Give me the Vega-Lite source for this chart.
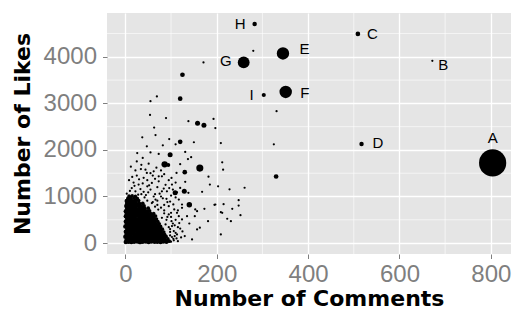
{
"$schema":"https://vega.github.io/schema/vega-lite/v6.json",
"width":404,"height":241,
"autosize":{"type":"none"},
"padding":{"left":107,"top":13,"right":9,"bottom":57},
"background":"white",
"config":{
"view":{"fill":"#E5E5E5","stroke":null},
"axis":{"grid":true,"gridColor":"white","gridWidth":1.3,"domain":false,"tickColor":"#7F7F7F","tickSize":4.5,"tickWidth":1,"labelFont":"Liberation Sans","labelFontSize":24,"labelColor":"#7F7F7F","labelFlush":false,"labelOverlap":false,"format":"d","titleFont":"DejaVu Sans","titleFontSize":22,"titleFontWeight":"bold","titleColor":"black"},
"axisX":{"labelPadding":4,"titlePadding":2},
"axisY":{"labelPadding":6,"titlePadding":9}
},
"datasets":{"pts":[
{"c":1,"l":25,"s":20},{"c":7,"l":30,"s":20},{"c":13,"l":22,"s":20},{"c":19,"l":28,"s":20},{"c":26,"l":35,"s":20},{"c":32,"l":20,"s":20},{"c":38,"l":27,"s":20},{"c":45,"l":31,"s":20},{"c":51,"l":24,"s":20},{"c":57,"l":33,"s":20},{"c":64,"l":26,"s":20},{"c":70,"l":30,"s":20},{"c":77,"l":22,"s":20},{"c":83,"l":35,"s":20},{"c":90,"l":28,"s":20},{"c":96,"l":40,"s":14},
{"c":3,"l":78,"s":20},{"c":9,"l":85,"s":20},{"c":16,"l":72,"s":20},{"c":22,"l":88,"s":20},{"c":28,"l":80,"s":20},{"c":35,"l":75,"s":20},{"c":41,"l":90,"s":20},{"c":48,"l":82,"s":20},{"c":54,"l":77,"s":20},{"c":60,"l":86,"s":20},{"c":67,"l":79,"s":20},{"c":73,"l":92,"s":20},{"c":80,"l":83,"s":20},{"c":86,"l":75,"s":20},{"c":93,"l":88,"s":14},
{"c":0,"l":135,"s":20},{"c":6,"l":128,"s":20},{"c":12,"l":140,"s":20},{"c":19,"l":132,"s":20},{"c":25,"l":145,"s":20},{"c":31,"l":130,"s":20},{"c":38,"l":138,"s":20},{"c":44,"l":127,"s":20},{"c":51,"l":142,"s":20},{"c":57,"l":135,"s":20},{"c":63,"l":131,"s":20},{"c":70,"l":146,"s":20},{"c":76,"l":137,"s":20},{"c":83,"l":129,"s":20},{"c":89,"l":141,"s":14},
{"c":3,"l":190,"s":20},{"c":9,"l":185,"s":20},{"c":15,"l":198,"s":20},{"c":22,"l":182,"s":20},{"c":28,"l":193,"s":20},{"c":34,"l":188,"s":20},{"c":41,"l":196,"s":20},{"c":47,"l":184,"s":20},{"c":54,"l":191,"s":20},{"c":60,"l":199,"s":20},{"c":66,"l":186,"s":20},{"c":73,"l":194,"s":20},{"c":79,"l":187,"s":20},{"c":86,"l":180,"s":14},
{"c":1,"l":245,"s":20},{"c":7,"l":252,"s":20},{"c":13,"l":240,"s":20},{"c":19,"l":248,"s":20},{"c":26,"l":255,"s":20},{"c":32,"l":243,"s":20},{"c":38,"l":250,"s":20},{"c":45,"l":238,"s":20},{"c":51,"l":246,"s":20},{"c":57,"l":253,"s":20},{"c":64,"l":241,"s":20},{"c":70,"l":249,"s":20},{"c":77,"l":244,"s":20},{"c":84,"l":236,"s":14},
{"c":4,"l":300,"s":20},{"c":10,"l":295,"s":20},{"c":16,"l":306,"s":20},{"c":23,"l":298,"s":20},{"c":29,"l":292,"s":20},{"c":35,"l":304,"s":20},{"c":42,"l":299,"s":20},{"c":48,"l":308,"s":20},{"c":55,"l":296,"s":20},{"c":61,"l":302,"s":20},{"c":67,"l":293,"s":20},{"c":74,"l":305,"s":20},{"c":81,"l":297,"s":14},
{"c":0,"l":355,"s":20},{"c":6,"l":360,"s":20},{"c":13,"l":350,"s":20},{"c":19,"l":358,"s":20},{"c":25,"l":363,"s":20},{"c":32,"l":352,"s":20},{"c":38,"l":356,"s":20},{"c":44,"l":349,"s":20},{"c":51,"l":361,"s":20},{"c":57,"l":354,"s":20},{"c":64,"l":359,"s":20},{"c":70,"l":348,"s":20},{"c":77,"l":357,"s":14},
{"c":3,"l":410,"s":20},{"c":9,"l":405,"s":20},{"c":16,"l":415,"s":20},{"c":22,"l":408,"s":20},{"c":28,"l":402,"s":20},{"c":35,"l":413,"s":20},{"c":41,"l":407,"s":20},{"c":48,"l":418,"s":20},{"c":54,"l":404,"s":20},{"c":60,"l":411,"s":20},{"c":67,"l":406,"s":20},{"c":74,"l":414,"s":14},
{"c":1,"l":465,"s":20},{"c":7,"l":470,"s":20},{"c":13,"l":460,"s":20},{"c":19,"l":468,"s":20},{"c":26,"l":474,"s":20},{"c":32,"l":462,"s":20},{"c":38,"l":467,"s":20},{"c":45,"l":459,"s":20},{"c":51,"l":471,"s":20},{"c":58,"l":464,"s":20},{"c":64,"l":469,"s":20},{"c":71,"l":461,"s":14},
{"c":4,"l":520,"s":20},{"c":10,"l":515,"s":20},{"c":16,"l":526,"s":20},{"c":22,"l":518,"s":20},{"c":29,"l":512,"s":20},{"c":35,"l":523,"s":20},{"c":42,"l":517,"s":20},{"c":48,"l":528,"s":20},{"c":55,"l":514,"s":20},{"c":61,"l":521,"s":20},{"c":68,"l":516,"s":14},
{"c":1,"l":575,"s":20},{"c":7,"l":580,"s":20},{"c":13,"l":570,"s":20},{"c":20,"l":578,"s":20},{"c":26,"l":584,"s":20},{"c":32,"l":572,"s":20},{"c":39,"l":577,"s":20},{"c":45,"l":569,"s":20},{"c":52,"l":581,"s":20},{"c":59,"l":574,"s":20},{"c":66,"l":579,"s":14},
{"c":3,"l":630,"s":20},{"c":9,"l":625,"s":20},{"c":16,"l":636,"s":20},{"c":22,"l":628,"s":20},{"c":28,"l":622,"s":20},{"c":35,"l":633,"s":20},{"c":41,"l":627,"s":20},{"c":48,"l":638,"s":20},{"c":55,"l":624,"s":20},{"c":62,"l":631,"s":14},
{"c":1,"l":685,"s":20},{"c":7,"l":690,"s":20},{"c":13,"l":680,"s":20},{"c":19,"l":688,"s":20},{"c":26,"l":694,"s":20},{"c":32,"l":682,"s":20},{"c":39,"l":687,"s":20},{"c":46,"l":679,"s":20},{"c":53,"l":691,"s":14},
{"c":4,"l":740,"s":20},{"c":10,"l":735,"s":20},{"c":16,"l":746,"s":20},{"c":22,"l":738,"s":20},{"c":29,"l":732,"s":20},{"c":35,"l":743,"s":20},{"c":42,"l":737,"s":20},{"c":50,"l":748,"s":14},
{"c":2,"l":795,"s":20},{"c":8,"l":800,"s":20},{"c":14,"l":790,"s":20},{"c":20,"l":798,"s":20},{"c":27,"l":804,"s":20},{"c":34,"l":792,"s":20},{"c":41,"l":797,"s":14},
{"c":4,"l":850,"s":20},{"c":10,"l":845,"s":20},{"c":16,"l":856,"s":20},{"c":23,"l":848,"s":20},{"c":30,"l":842,"s":20},{"c":38,"l":853,"s":14},
{"c":3,"l":905,"s":20},{"c":9,"l":910,"s":20},{"c":15,"l":900,"s":20},{"c":22,"l":908,"s":20},{"c":29,"l":914,"s":14},
{"c":6,"l":960,"s":16},{"c":12,"l":955,"s":16},{"c":19,"l":966,"s":16},{"c":26,"l":958,"s":14},
{"c":8,"l":1010,"s":12},{"c":15,"l":1018,"s":12},{"c":22,"l":1004,"s":12},
{"c":280,"l":4128,"s":5},{"c":171,"l":3880,"s":5},{"c":125,"l":3615,"s":22},{"c":120,"l":3102,"s":22},{"c":55,"l":3046,"s":5},{"c":69,"l":3150,"s":5},{"c":331,"l":2832,"s":5},{"c":325,"l":2120,"s":5},{"c":330,"l":1430,"s":22},
{"c":158,"l":2575,"s":25},{"c":172,"l":2532,"s":25},{"c":193,"l":2665,"s":5},{"c":197,"l":2470,"s":5},{"c":54,"l":2753,"s":5},{"c":89,"l":2685,"s":5},{"c":63,"l":2480,"s":5},{"c":66,"l":2320,"s":5},{"c":138,"l":2618,"s":5},{"c":150,"l":2165,"s":5},{"c":120,"l":2175,"s":22},{"c":209,"l":2147,"s":5},{"c":37,"l":2272,"s":5},{"c":47,"l":2078,"s":5},{"c":82,"l":2100,"s":5},{"c":96,"l":2233,"s":5},{"c":110,"l":2120,"s":5},
{"c":98,"l":1895,"s":25},{"c":26,"l":1934,"s":5},{"c":38,"l":1827,"s":5},{"c":55,"l":1947,"s":5},{"c":73,"l":1915,"s":5},{"c":131,"l":1958,"s":5},{"c":144,"l":1845,"s":5},{"c":137,"l":1805,"s":5},{"c":120,"l":1695,"s":5},{"c":86,"l":1690,"s":40},{"c":94,"l":1676,"s":15},{"c":163,"l":1610,"s":50},{"c":130,"l":1522,"s":22},{"c":112,"l":1506,"s":5},{"c":22,"l":1560,"s":5},{"c":34,"l":1590,"s":5},{"c":47,"l":1506,"s":5},{"c":62,"l":1540,"s":5},{"c":73,"l":1433,"s":5},{"c":15,"l":1420,"s":5},{"c":101,"l":1399,"s":5},{"c":131,"l":1315,"s":5},{"c":102,"l":1256,"s":5},{"c":120,"l":1185,"s":5},{"c":129,"l":1115,"s":25},{"c":113,"l":1091,"s":5},{"c":91,"l":1112,"s":5},{"c":168,"l":1100,"s":5},{"c":182,"l":1425,"s":5},{"c":212,"l":1733,"s":5},{"c":214,"l":1576,"s":5},{"c":203,"l":1219,"s":5},{"c":228,"l":1155,"s":5},{"c":261,"l":1188,"s":5},{"c":185,"l":1256,"s":5},{"c":248,"l":920,"s":5},{"c":248,"l":806,"s":5},{"c":234,"l":735,"s":5},{"c":215,"l":834,"s":5},{"c":195,"l":821,"s":5},{"c":173,"l":735,"s":5},{"c":209,"l":663,"s":5},{"c":157,"l":684,"s":5},{"c":140,"l":825,"s":30},{"c":117,"l":935,"s":5},{"c":124,"l":757,"s":5},{"c":107,"l":721,"s":5},{"c":135,"l":578,"s":5},{"c":152,"l":578,"s":5},{"c":117,"l":578,"s":5},{"c":101,"l":471,"s":5},{"c":181,"l":471,"s":5},{"c":223,"l":522,"s":5},{"c":231,"l":471,"s":5},{"c":252,"l":599,"s":5},{"c":209,"l":186,"s":5},{"c":163,"l":329,"s":5},{"c":113,"l":186,"s":5},{"c":98,"l":165,"s":5},
{"c":88,"l":400,"s":5},{"c":25,"l":1754,"s":5},{"c":51,"l":1705,"s":5},{"c":44,"l":1576,"s":5},{"c":58,"l":1292,"s":5},{"c":80,"l":1433,"s":5},{"c":109,"l":1078,"s":25},{"c":138,"l":1078,"s":5},{"c":153,"l":721,"s":5},{"c":197,"l":828,"s":5},{"c":212,"l":650,"s":5},{"c":157,"l":293,"s":5},{"c":102,"l":364,"s":5},{"c":124,"l":507,"s":5},{"c":113,"l":650,"s":5},{"c":95,"l":791,"s":5},{"c":66,"l":935,"s":5},{"c":80,"l":1112,"s":5},{"c":48,"l":1219,"s":5},{"c":29,"l":1256,"s":5},{"c":22,"l":1112,"s":5},{"c":11,"l":1005,"s":5},{"c":73,"l":1326,"s":5},{"c":146,"l":79,"s":5},{"c":106,"l":257,"s":5},{"c":80,"l":543,"s":5},{"c":95,"l":614,"s":5},{"c":124,"l":828,"s":5},
{"c":35,"l":1050,"s":5},{"c":42,"l":980,"s":5},{"c":55,"l":1150,"s":5},{"c":60,"l":880,"s":5},{"c":70,"l":820,"s":5},{"c":85,"l":700,"s":5},{"c":78,"l":1000,"s":5},{"c":14,"l":1180,"s":5},{"c":30,"l":1370,"s":5},{"c":48,"l":1350,"s":5},{"c":100,"l":560,"s":5},{"c":108,"l":380,"s":5},{"c":120,"l":310,"s":5},{"c":130,"l":150,"s":5},{"c":105,"l":90,"s":5},{"c":115,"l":40,"s":5},{"c":125,"l":250,"s":5},{"c":140,"l":420,"s":5},{"c":92,"l":880,"s":5},{"c":40,"l":1100,"s":5},{"c":65,"l":1050,"s":5},{"c":90,"l":950,"s":5},{"c":100,"l":1020,"s":5},{"c":18,"l":1300,"s":5},{"c":60,"l":1450,"s":5},{"c":88,"l":1250,"s":5},{"c":70,"l":1200,"s":5},
{"c":3,"l":1060,"s":5},{"c":10,"l":1120,"s":5},{"c":28,"l":1040,"s":5},{"c":33,"l":1160,"s":5},{"c":45,"l":1030,"s":5},{"c":50,"l":1090,"s":5},{"c":62,"l":1000,"s":5},{"c":20,"l":1230,"s":5},{"c":38,"l":1280,"s":5},{"c":52,"l":1240,"s":5},{"c":8,"l":1350,"s":5},{"c":25,"l":1450,"s":5},{"c":40,"l":1400,"s":5},{"c":55,"l":1500,"s":5},{"c":12,"l":1640,"s":5},{"c":35,"l":1680,"s":5},{"c":68,"l":1620,"s":5},{"c":78,"l":1560,"s":5},{"c":85,"l":1480,"s":5},{"c":95,"l":1350,"s":5},{"c":110,"l":1300,"s":5},{"c":65,"l":1380,"s":5},{"c":84,"l":1170,"s":5},{"c":96,"l":1180,"s":5},{"c":75,"l":1060,"s":5},{"c":104,"l":1150,"s":5},{"c":110,"l":980,"s":5},{"c":98,"l":890,"s":5},{"c":85,"l":820,"s":5},{"c":78,"l":760,"s":5},{"c":105,"l":830,"s":5},{"c":115,"l":700,"s":5},{"c":100,"l":650,"s":5},{"c":92,"l":560,"s":5},{"c":110,"l":500,"s":5},{"c":118,"l":430,"s":5},{"c":104,"l":420,"s":5},{"c":115,"l":340,"s":5},{"c":98,"l":300,"s":5},{"c":110,"l":220,"s":5},{"c":122,"l":120,"s":5},{"c":108,"l":150,"s":5},{"c":100,"l":30,"s":5},{"c":106,"l":60,"s":5},{"c":112,"l":100,"s":5},{"c":58,"l":860,"s":5},{"c":48,"l":910,"s":5},{"c":70,"l":910,"s":5},{"c":82,"l":960,"s":5},{"c":65,"l":780,"s":5},{"c":72,"l":720,"s":5},{"c":85,"l":640,"s":5},{"c":90,"l":500,"s":5},{"c":95,"l":340,"s":5},{"c":98,"l":240,"s":5},{"c":102,"l":130,"s":5},
{"c":804,"l":1720,"s":740,"lab":"A"},{"c":672,"l":3915,"s":5,"lab":"B"},{"c":509,"l":4492,"s":22,"lab":"C"},{"c":517,"l":2126,"s":20,"lab":"D"},{"c":345,"l":4072,"s":154,"lab":"E"},{"c":351,"l":3245,"s":154,"lab":"F"},{"c":259,"l":3880,"s":140,"lab":"G"},{"c":283,"l":4706,"s":20,"lab":"H"},{"c":303,"l":3181,"s":17,"lab":"I"}
]},
"data":{"name":"pts"},
"layer":[
{"data":{"values":[{"c":100},{"c":300},{"c":500},{"c":700}]},
 "mark":{"type":"rule","color":"white","strokeWidth":0.6},
 "encoding":{"x":{"field":"c","type":"quantitative","scale":{"domain":[-40.2,844.2],"nice":false,"zero":false},"axis":{"values":[0,200,400,600,800],"title":"Number of Comments"}}}},
{"data":{"values":[{"l":500},{"l":1500},{"l":2500},{"l":3500},{"l":4500}]},
 "mark":{"type":"rule","color":"white","strokeWidth":0.6},
 "encoding":{"y":{"field":"l","type":"quantitative","scale":{"domain":[-235,4941],"nice":false,"zero":false},"axis":{"values":[0,1000,2000,3000,4000],"title":"Number of Likes"}}}},
{"mark":{"type":"circle","color":"black","opacity":1},
 "encoding":{
  "x":{"field":"c","type":"quantitative","scale":{"domain":[-40.2,844.2],"nice":false,"zero":false},"axis":{"values":[0,200,400,600,800],"title":"Number of Comments"}},
  "y":{"field":"l","type":"quantitative","scale":{"domain":[-235,4941],"nice":false,"zero":false},"axis":{"values":[0,1000,2000,3000,4000],"title":"Number of Likes"}},
  "size":{"field":"s","type":"quantitative","scale":{"type":"linear","domain":[0,800],"range":[0,800]},"legend":null}}},
{"transform":[{"filter":"datum.lab==='A'"}],"mark":{"type":"text","font":"Liberation Sans","fontSize":15,"color":"black","align":"center","baseline":"middle","dy":-25},
 "encoding":{"x":{"field":"c","type":"quantitative"},"y":{"field":"l","type":"quantitative"},"text":{"field":"lab"}}},
{"transform":[{"filter":"datum.lab==='B'"}],"mark":{"type":"text","font":"Liberation Sans","fontSize":15,"color":"black","align":"left","baseline":"middle","dx":6,"dy":4},
 "encoding":{"x":{"field":"c","type":"quantitative"},"y":{"field":"l","type":"quantitative"},"text":{"field":"lab"}}},
{"transform":[{"filter":"datum.lab==='C'"}],"mark":{"type":"text","font":"Liberation Sans","fontSize":15,"color":"black","align":"left","baseline":"middle","dx":9,"dy":0},
 "encoding":{"x":{"field":"c","type":"quantitative"},"y":{"field":"l","type":"quantitative"},"text":{"field":"lab"}}},
{"transform":[{"filter":"datum.lab==='D'"}],"mark":{"type":"text","font":"Liberation Sans","fontSize":15,"color":"black","align":"left","baseline":"middle","dx":11,"dy":-1},
 "encoding":{"x":{"field":"c","type":"quantitative"},"y":{"field":"l","type":"quantitative"},"text":{"field":"lab"}}},
{"transform":[{"filter":"datum.lab==='E'"}],"mark":{"type":"text","font":"Liberation Sans","fontSize":15,"color":"black","align":"left","baseline":"middle","dx":16.5,"dy":-4},
 "encoding":{"x":{"field":"c","type":"quantitative"},"y":{"field":"l","type":"quantitative"},"text":{"field":"lab"}}},
{"transform":[{"filter":"datum.lab==='F'"}],"mark":{"type":"text","font":"Liberation Sans","fontSize":15,"color":"black","align":"left","baseline":"middle","dx":14.5,"dy":1},
 "encoding":{"x":{"field":"c","type":"quantitative"},"y":{"field":"l","type":"quantitative"},"text":{"field":"lab"}}},
{"transform":[{"filter":"datum.lab==='G'"}],"mark":{"type":"text","font":"Liberation Sans","fontSize":15,"color":"black","align":"right","baseline":"middle","dx":-12,"dy":-1},
 "encoding":{"x":{"field":"c","type":"quantitative"},"y":{"field":"l","type":"quantitative"},"text":{"field":"lab"}}},
{"transform":[{"filter":"datum.lab==='H'"}],"mark":{"type":"text","font":"Liberation Sans","fontSize":15,"color":"black","align":"right","baseline":"middle","dx":-9,"dy":0},
 "encoding":{"x":{"field":"c","type":"quantitative"},"y":{"field":"l","type":"quantitative"},"text":{"field":"lab"}}},
{"transform":[{"filter":"datum.lab==='I'"}],"mark":{"type":"text","font":"Liberation Sans","fontSize":15,"color":"black","align":"right","baseline":"middle","dx":-10,"dy":0},
 "encoding":{"x":{"field":"c","type":"quantitative"},"y":{"field":"l","type":"quantitative"},"text":{"field":"lab"}}}
]
}
